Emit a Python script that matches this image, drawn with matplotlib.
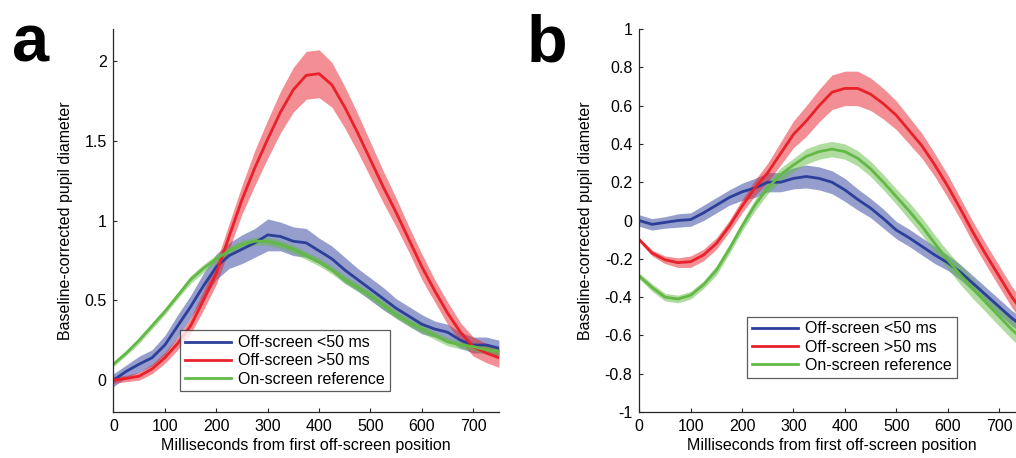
import numpy as np
import matplotlib
matplotlib.use("Agg")
import matplotlib.pyplot as plt
from matplotlib.ticker import FormatStrFormatter

plt.rcParams['font.family'] = ['Liberation Sans', 'DejaVu Sans']

# time axis (ms), one sample every 25 ms
ms = np.arange(0, 751, 25)

# panel a
a_short = [0, 0.055, 0.1, 0.14, 0.22, 0.34, 0.46, 0.59, 0.71, 0.78, 0.82, 0.86, 0.91, 0.9, 0.87, 0.86,
           0.81, 0.76, 0.69, 0.63, 0.57, 0.51, 0.45, 0.4, 0.35, 0.32, 0.30, 0.25, 0.22, 0.22, 0.2]
a_short_err = [0.04, 0.04, 0.05, 0.05, 0.06, 0.07, 0.07, 0.08, 0.08, 0.08, 0.09, 0.09, 0.1, 0.09, 0.09, 0.09,
               0.08, 0.08, 0.08, 0.07, 0.07, 0.07, 0.06, 0.06, 0.06, 0.05, 0.05, 0.05, 0.05, 0.05, 0.05]
a_long = [0, 0.01, 0.025, 0.07, 0.14, 0.23, 0.34, 0.5, 0.67, 0.9, 1.13, 1.33, 1.51, 1.68, 1.82, 1.91,
          1.92, 1.85, 1.71, 1.55, 1.38, 1.21, 1.05, 0.88, 0.71, 0.56, 0.42, 0.3, 0.21, 0.17, 0.14]
a_long_err = [0.02, 0.02, 0.025, 0.03, 0.035, 0.04, 0.05, 0.06, 0.07, 0.08, 0.09, 0.11, 0.12, 0.13, 0.14, 0.15,
              0.15, 0.14, 0.13, 0.12, 0.11, 0.1, 0.09, 0.08, 0.08, 0.07, 0.07, 0.06, 0.06, 0.06, 0.06]
a_ref = [0.1, 0.17, 0.25, 0.34, 0.43, 0.53, 0.63, 0.7, 0.76, 0.81, 0.85, 0.87, 0.87, 0.85, 0.82, 0.78,
         0.74, 0.69, 0.63, 0.58, 0.53, 0.47, 0.41, 0.36, 0.32, 0.28, 0.24, 0.22, 0.21, 0.19, 0.18]
a_ref_err = [0.015, 0.015, 0.02, 0.02, 0.02, 0.02, 0.025, 0.025, 0.025, 0.025, 0.025, 0.025, 0.025, 0.025, 0.025, 0.025,
             0.025, 0.025, 0.025, 0.025, 0.025, 0.025, 0.025, 0.025, 0.025, 0.025, 0.025, 0.025, 0.025, 0.025, 0.025]
a_yticks = [0, 0.5, 1, 1.5, 2]

# panel b
b_short = [0, -0.02, -0.01, 0, 0.005, 0.04, 0.08, 0.12, 0.15, 0.17, 0.2, 0.2, 0.22, 0.23, 0.22, 0.2,
           0.16, 0.11, 0.065, 0.01, -0.05, -0.09, -0.135, -0.18, -0.22, -0.27, -0.33, -0.39, -0.45, -0.51, -0.56]
b_short_err = [0.03, 0.03, 0.03, 0.035, 0.035, 0.04, 0.04, 0.04, 0.045, 0.05, 0.05, 0.05, 0.055, 0.06, 0.06, 0.06,
               0.06, 0.055, 0.05, 0.05, 0.045, 0.045, 0.045, 0.045, 0.04, 0.04, 0.04, 0.04, 0.04, 0.04, 0.04]
b_long = [-0.1, -0.17, -0.205, -0.22, -0.215, -0.18, -0.12, -0.03, 0.075, 0.17, 0.25, 0.35, 0.45, 0.52, 0.6, 0.67,
          0.69, 0.69, 0.66, 0.61, 0.55, 0.47, 0.39, 0.29, 0.18, 0.06, -0.065, -0.18, -0.29, -0.4, -0.49]
b_long_err = [0.01, 0.015, 0.02, 0.025, 0.03, 0.03, 0.03, 0.03, 0.035, 0.04, 0.05, 0.06, 0.07, 0.08, 0.085, 0.09,
              0.09, 0.09, 0.085, 0.08, 0.075, 0.07, 0.065, 0.06, 0.06, 0.055, 0.055, 0.055, 0.055, 0.055, 0.055]
b_ref = [-0.29, -0.35, -0.4, -0.41, -0.39, -0.335, -0.26, -0.15, -0.03, 0.08, 0.17, 0.24, 0.29, 0.335, 0.36, 0.373,
         0.36, 0.325, 0.27, 0.2, 0.125, 0.05, -0.03, -0.12, -0.205, -0.285, -0.36, -0.43, -0.5, -0.57, -0.63]
b_ref_err = [0.015, 0.02, 0.02, 0.02, 0.02, 0.02, 0.025, 0.025, 0.025, 0.03, 0.03, 0.035, 0.035, 0.04, 0.04, 0.04,
             0.04, 0.04, 0.04, 0.04, 0.04, 0.045, 0.045, 0.045, 0.045, 0.05, 0.05, 0.05, 0.05, 0.05, 0.05]
b_yticks = [-1, -0.8, -0.6, -0.4, -0.2, 0, 0.2, 0.4, 0.6, 0.8, 1]

labels = ["Off-screen <50 ms", "Off-screen >50 ms", "On-screen reference"]
colors = ["#2c3f9a", "#e8212a", "#63b945"]

fig = plt.figure(figsize=(10.16, 4.58), dpi=100)
ax_a = fig.add_axes([0.1117, 0.1004, 0.3794, 0.8362])
ax_b = fig.add_axes([0.6292, 0.1004, 0.3794, 0.8362])


def draw(ax, series, ylim, yticks, legend_pos):
    handles = []
    for (m, e), c in zip(series, colors):
        m = np.array(m)
        e = np.array(e)
        ax.fill_between(ms, m - e, m + e, color=c, alpha=0.5, lw=0)
    for (m, e), c, lab in zip(series, colors, labels):
        h, = ax.plot(ms, m, color=c, lw=2, label=lab)
        handles.append(h)
    ax.set_xlim(0, 750)
    ax.set_ylim(*ylim)
    ax.set_xticks(range(0, 701, 100))
    ax.set_yticks(yticks)
    ax.yaxis.set_major_formatter(FormatStrFormatter('%g'))
    for s in ["top", "right"]:
        ax.spines[s].set_visible(False)
    for s in ["left", "bottom"]:
        ax.spines[s].set_color("#262626")
        ax.spines[s].set_linewidth(0.9)
    ax.tick_params(direction="in", length=3, labelsize=11.5, colors="#262626", labelcolor="black", pad=5)
    ax.set_xlabel("Milliseconds from first off-screen position", fontsize=11.5, labelpad=3)
    ax.set_ylabel("Baseline-corrected pupil diameter", fontsize=11.5, labelpad=8)
    leg = ax.legend(handles=handles, loc="lower left", bbox_to_anchor=legend_pos,
                    fontsize=11.5, frameon=True, fancybox=False, handlelength=2.9,
                    handletextpad=0.45, borderpad=0.3, labelspacing=0.2, borderaxespad=0)
    leg.get_frame().set_edgecolor("#333333")
    leg.get_frame().set_linewidth(0.9)


draw(ax_a, [(a_short, a_short_err), (a_long, a_long_err), (a_ref, a_ref_err)],
     (-0.2, 2.2), a_yticks, (0.173, 0.054))
draw(ax_b, [(b_short, b_short_err), (b_long, b_long_err), (b_ref, b_ref_err)],
     (-1, 1), b_yticks, (0.28, 0.09))

fig.text(0.012, 0.865, "a", fontsize=48, fontweight="bold")
fig.text(0.518, 0.865, "b", fontsize=48, fontweight="bold")

fig.savefig("out.png", dpi=100)
